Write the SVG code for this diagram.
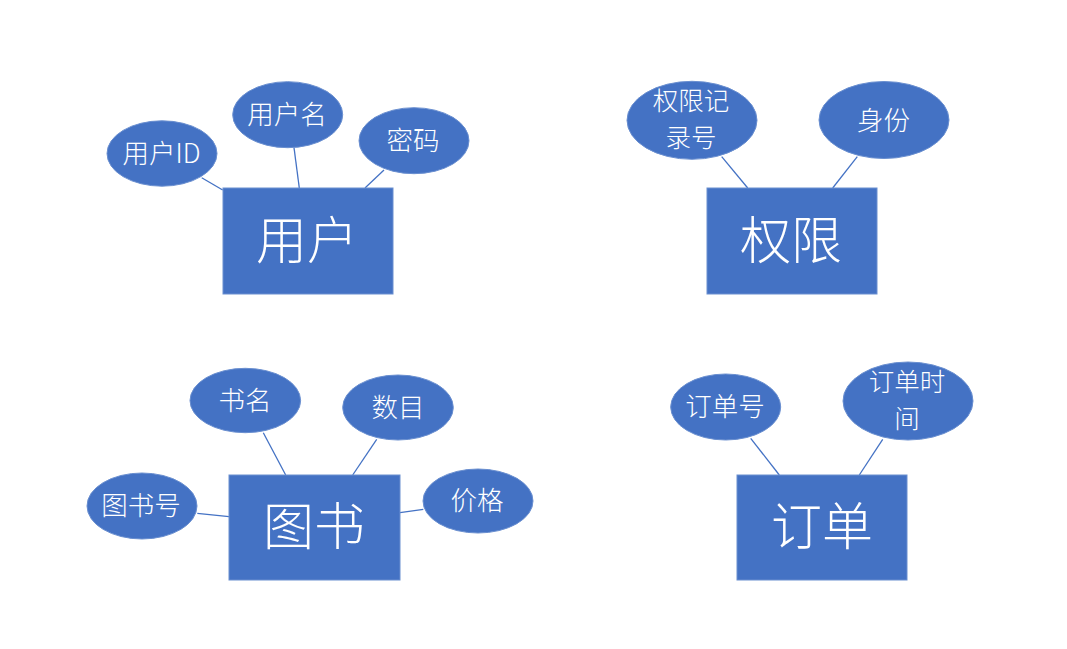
<svg xmlns="http://www.w3.org/2000/svg" width="1067" height="649" viewBox="0 0 1067 649">
<style>
.ent{fill:#4472C4;stroke:#6a8fd0;stroke-width:1}
.att{fill:#4472C4;stroke:#6a8fd0;stroke-width:1}
.et{fill:#fff;font-family:"Noto Sans CJK SC","Liberation Serif",serif;font-weight:300;font-size:51px;text-anchor:middle;dominant-baseline:central}
.at{fill:#fff;font-family:"Noto Sans CJK SC","Liberation Sans",sans-serif;font-weight:300;font-size:26.5px;text-anchor:middle;dominant-baseline:central}
.at2{font-size:25.5px}
.c line{stroke:#4472C4;stroke-width:1.3}
</style>
<rect width="1067" height="649" fill="#fff"/>
<g id="connectors" class="c">
<line x1="201.7" y1="177.7" x2="222.7" y2="190"/>
<line x1="294" y1="147.7" x2="299.3" y2="188"/>
<line x1="384" y1="170" x2="365" y2="188"/>
<line x1="721.7" y1="156.7" x2="747.7" y2="188"/>
<line x1="857.3" y1="156.7" x2="832.7" y2="188"/>
<line x1="263.3" y1="432.7" x2="285.7" y2="475"/>
<line x1="376.7" y1="439.3" x2="352.7" y2="475"/>
<line x1="197.3" y1="513.3" x2="229" y2="516.7"/>
<line x1="400" y1="512.7" x2="423.3" y2="509.3"/>
<line x1="750.7" y1="438.3" x2="779.3" y2="475"/>
<line x1="882.7" y1="439.3" x2="859.3" y2="475"/>
</g>
<g id="user"><rect class="ent" x="223" y="188" width="170" height="106"/><text class="et" x="307" y="237">用户</text></g>
<g id="user-id"><ellipse class="att" cx="162" cy="153.5" rx="55" ry="32.7"/><text class="at" x="161.5" y="151">用户ID</text></g>
<g id="user-name"><ellipse class="att" cx="287.7" cy="114.7" rx="55" ry="33"/><text class="at" x="287" y="112.5">用户名</text></g>
<g id="password"><ellipse class="att" cx="414" cy="140.7" rx="55" ry="33"/><text class="at" x="413" y="138">密码</text></g>
<g id="perm"><rect class="ent" x="707" y="188" width="170" height="106"/><text class="et" x="791" y="237">权限</text></g>
<g id="perm-no"><ellipse class="att" cx="692" cy="120.3" rx="65" ry="39"/><text class="at at2"><tspan x="691" y="97.5">权限记</tspan><tspan x="691" y="134.5">录号</tspan></text></g>
<g id="identity"><ellipse class="att" cx="884" cy="120" rx="65" ry="38.5"/><text class="at" x="883.5" y="118">身份</text></g>
<g id="book"><rect class="ent" x="229" y="475" width="171" height="105"/><text class="et" x="314" y="523">图书</text></g>
<g id="book-name"><ellipse class="att" cx="245.3" cy="400.5" rx="55.3" ry="32.2"/><text class="at" x="245" y="398">书名</text></g>
<g id="count"><ellipse class="att" cx="398" cy="407.5" rx="55.3" ry="32.5"/><text class="at" x="398" y="405">数目</text></g>
<g id="book-no"><ellipse class="att" cx="142" cy="506" rx="55" ry="33"/><text class="at" x="141" y="503.5">图书号</text></g>
<g id="price"><ellipse class="att" cx="478" cy="501" rx="55" ry="32"/><text class="at" x="477" y="498">价格</text></g>
<g id="order"><rect class="ent" x="737" y="475" width="170" height="105"/><text class="et" x="822" y="523">订单</text></g>
<g id="order-no"><ellipse class="att" cx="725.7" cy="407" rx="55" ry="33"/><text class="at" x="725" y="404">订单号</text></g>
<g id="order-time"><ellipse class="att" cx="908" cy="401" rx="65" ry="39"/><text class="at at2"><tspan x="907" y="379">订单时</tspan><tspan x="907" y="416">间</tspan></text></g>
</svg>
